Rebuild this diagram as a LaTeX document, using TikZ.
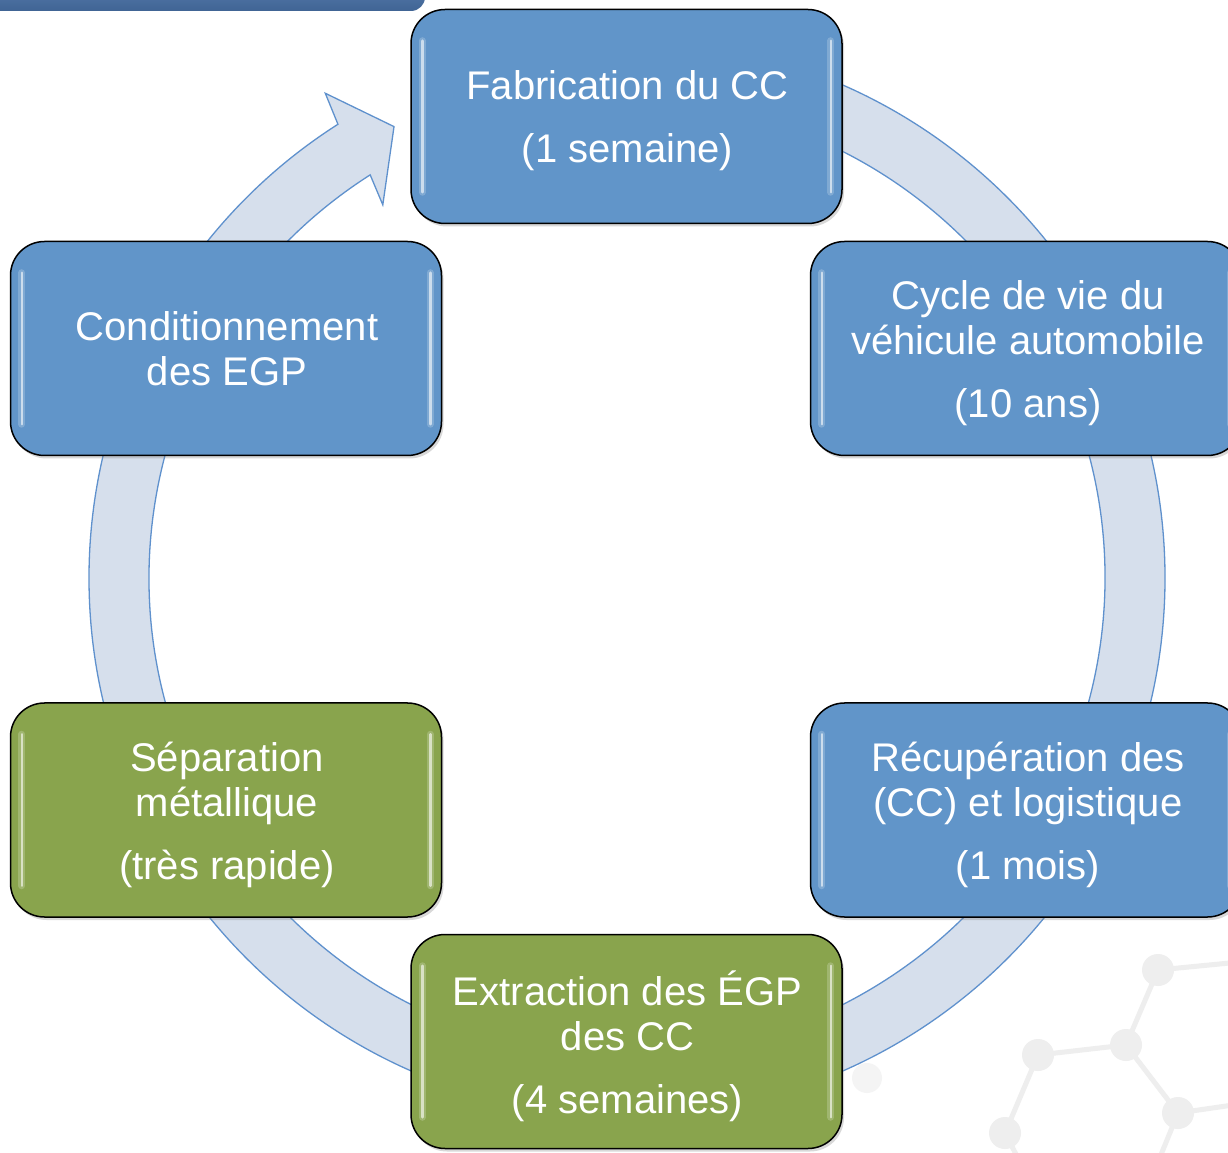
\documentclass[tikz,border=0pt]{standalone}
\usepackage{fontspec}
\setmainfont{Liberation Sans}
\usetikzlibrary{calc,shadows}
\definecolor{boxblue}{RGB}{97,149,201}
\definecolor{boxgreen}{RGB}{137,164,77}
\definecolor{ringfill}{RGB}{214,223,236}
\definecolor{ringline}{RGB}{95,145,205}
\definecolor{molgray}{RGB}{238,238,238}
\definecolor{bartop}{RGB}{110,150,200}
\definecolor{barbot}{RGB}{64,100,148}
\begin{document}
\begin{tikzpicture}[x=1pt,y=1pt,
  stagebox/.style={draw=black, line width=1.5pt, rounded corners=34pt,
    minimum width=431pt, minimum height=214pt,
    drop shadow={shadow xshift=2pt, shadow yshift=-3pt, opacity=0.3}},
  bluebox/.style={stagebox, fill=boxblue},
  greenbox/.style={stagebox, fill=boxgreen},
  stagetext/.style={align=center, text=white, inner sep=0pt,
    font=\fontsize{40}{45}\selectfont},
  ringstyle/.style={fill=ringfill, draw=ringline, line width=1.3pt, line join=miter},
  glow/.style={draw=white, line width=7pt, opacity=0.2, line cap=round},
  gloss/.style={draw=white, line width=2.5pt, opacity=0.6, line cap=round},
  molline/.style={draw=molgray, line width=5pt},
  molatom/.style={fill=molgray}
]
\clip (0,0) rectangle (1228,1152);
\fill[white] (0,0) rectangle (1228,1152);

% faint molecule in the background
\coordinate (m1) at (1158,182);
\coordinate (m2) at (1126,107);
\coordinate (m3) at (1038,97);
\coordinate (m4) at (1178,39);
\coordinate (m5) at (1005,19);
\coordinate (m6) at (867,74);
\coordinate (e1) at (1240,190);
\coordinate (e2) at (1240,48);
\coordinate (e3) at (1158,-10);
\coordinate (e4) at (1020,-10);
\draw[molline] (e1) -- (m1) -- (m2) -- (m3) -- (m5) -- (e4);
\draw[molline] (m2) -- (m4) -- (e2);
\draw[molline] (m4) -- (e3);
\foreach \m in {m1,m2,m3,m4,m5}{ \fill[molatom] (\m) circle[radius=16pt]; }
\fill[molgray, opacity=0.6] (m6) circle[radius=15pt];

% top-left header bar
\shade[top color=bartop, bottom color=barbot, rounded corners=14pt] (-40,1141) rectangle (425,1200);

% circular arrow
\coordinate (c) at (627,574);
\filldraw[ringstyle] ($(c)+(90:538)$) arc[start angle=90, end angle=-237.5, radius=538pt]
  -- ($(c)+(121.9:571)$) -- ($(c)+(117.3:508)$) -- ($(c)+(123.2:446)$)
  -- ($(c)+(122.5:478)$) arc[start angle=-237.5, end angle=90, radius=478pt] -- cycle;

% stage boxes
\node[bluebox] (fab) at (626.5,1035.5) {};
\node[bluebox] (cyc) at (1026,803.5) {};
\node[bluebox] (rec) at (1026,342) {};
\node[greenbox] (ext) at (626.5,110.5) {};
\node[greenbox] (sep) at (226,342) {};
\node[bluebox] (cond) at (226,803.5) {};

% glossy highlights
\foreach \n in {fab,cyc,rec,ext,sep,cond}{
  \draw[glow] ([xshift=12pt,yshift=-32pt]\n.north west) -- ([xshift=12pt,yshift=32pt]\n.south west);
  \draw[gloss] ([xshift=12pt,yshift=-32pt]\n.north west) -- ([xshift=12pt,yshift=32pt]\n.south west);
  \draw[glow] ([xshift=-12pt,yshift=-32pt]\n.north east) -- ([xshift=-12pt,yshift=32pt]\n.south east);
  \draw[gloss] ([xshift=-12pt,yshift=-32pt]\n.north east) -- ([xshift=-12pt,yshift=32pt]\n.south east);
}

% stage texts
\node[stagetext] (fabt) at ([xshift=1pt,yshift=-4.5pt]fab.center) {Fabrication du CC\\[18pt](1 semaine)};
\node[stagetext] (cyct) at ([xshift=2pt,yshift=-4.5pt]cyc.center) {Cycle de vie du\\véhicule automobile\\[18pt](10 ans)};
\node[stagetext] (rect) at ([xshift=2pt,yshift=-4.5pt]rec.center) {Récupération des\\(CC) et logistique\\[18pt](1 mois)};
\node[stagetext] (extt) at ([xshift=1pt,yshift=-4.5pt]ext.center) {Extraction des ÉGP\\des CC\\[18pt](4 semaines)};
\node[stagetext] (sept) at ([xshift=1pt,yshift=-4.5pt]sep.center) {Séparation\\métallique\\[18pt](très rapide)};
\node[stagetext] (condt) at ([xshift=1pt,yshift=0pt]cond.center) {Conditionnement\\des EGP};
\end{tikzpicture}
\end{document}
